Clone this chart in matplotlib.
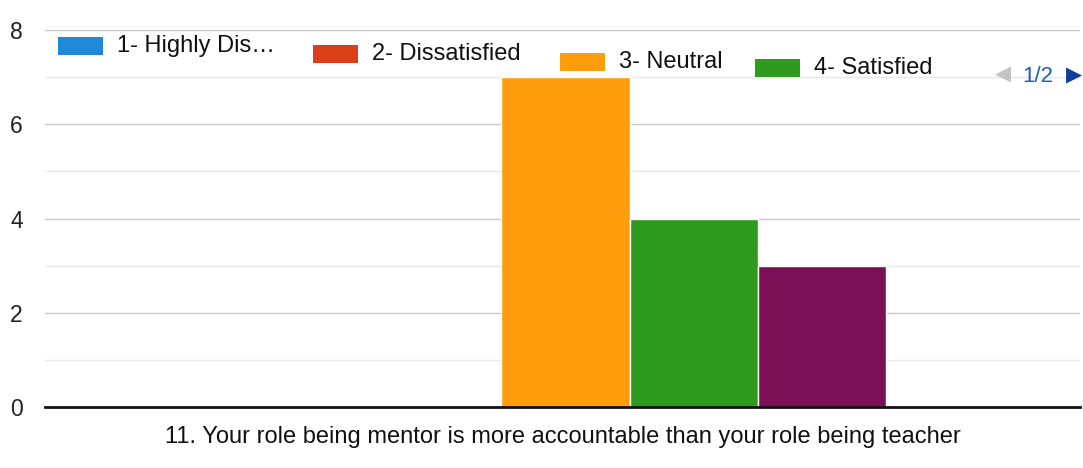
import matplotlib
matplotlib.use("Agg")
import matplotlib.pyplot as plt
from matplotlib.patches import Rectangle

plt.rcParams["font.family"] = ["Liberation Sans", "DejaVu Sans"]

# responses per answer option
labels = ["1- Highly Dis…", "2- Dissatisfied", "3- Neutral", "4- Satisfied", "5- Highly Satisfied"]
counts = [0, 0, 7, 4, 3]
colors = ["#1f88d9", "#d9401a", "#ff9d0c", "#2e9a1e", "#7c1057"]
question = "11. Your role being mentor is more accountable than your role being teacher"
yticks = [0, 2, 4, 6, 8]

W, H = 1083, 468
fig = plt.figure(figsize=(W / 100, H / 100), dpi=100)
ax = fig.add_axes([45 / W, 1 - 407 / H, 1 - 45 / W - 3 / W, (407 - 30) / H])

bar_w = 0.124
n = len(counts)
xs = [0.003 + (i - (n - 1) / 2) * bar_w for i in range(n)]
ax.bar(xs, counts, width=bar_w, color=colors, edgecolor="white", linewidth=1.0, zorder=3)

ax.set_xlim(-0.5, 0.5)
ax.set_ylim(0, 8)
ax.set_yticks(yticks)
ax.set_yticks([1, 3, 5, 7], minor=True)
ax.grid(axis="y", which="major", color="#c8c8c8", linewidth=1.0, zorder=0)
ax.grid(axis="y", which="minor", color="#e8e8e8", linewidth=1.0, zorder=0)
ax.axhline(0, color="#111111", linewidth=2.0, zorder=4, clip_on=False)
ax.set_xticks([])
ax.tick_params(axis="y", which="both", length=0, pad=16, labelsize=16.5, labelcolor="#222222")
for s in ax.spines.values():
    s.set_visible(False)

ax.set_xlabel(question, fontsize=17, color="#111111", labelpad=14)


def px(x, y):
    return x / W, 1 - y / H


# legend row, first page of two (slight slope follows the scan)
leg_x = [58, 313, 560, 755]
for i, lx in enumerate(leg_x):
    cy = 46 + (lx - 58) * 0.032
    x0, y0 = px(lx, cy + 9)
    fig.add_artist(Rectangle((x0, y0), 45 / W, 18 / H, transform=fig.transFigure,
                             color=colors[i], lw=0))
    tx, ty = px(lx + 59, cy)
    fig.text(tx, ty, labels[i], fontsize=17, color="#111111", va="center", ha="left")

fig.text(*px(1003, 75), "◀", fontsize=15, color="#c4c4c4", va="center", ha="center")
fig.text(*px(1038, 76), "1/2", fontsize=16, color="#1d5fb8", va="center", ha="center")
fig.text(*px(1074, 76), "▶", fontsize=15, color="#0d3f99", va="center", ha="center")

fig.savefig("out.png", dpi=100, facecolor="white")
